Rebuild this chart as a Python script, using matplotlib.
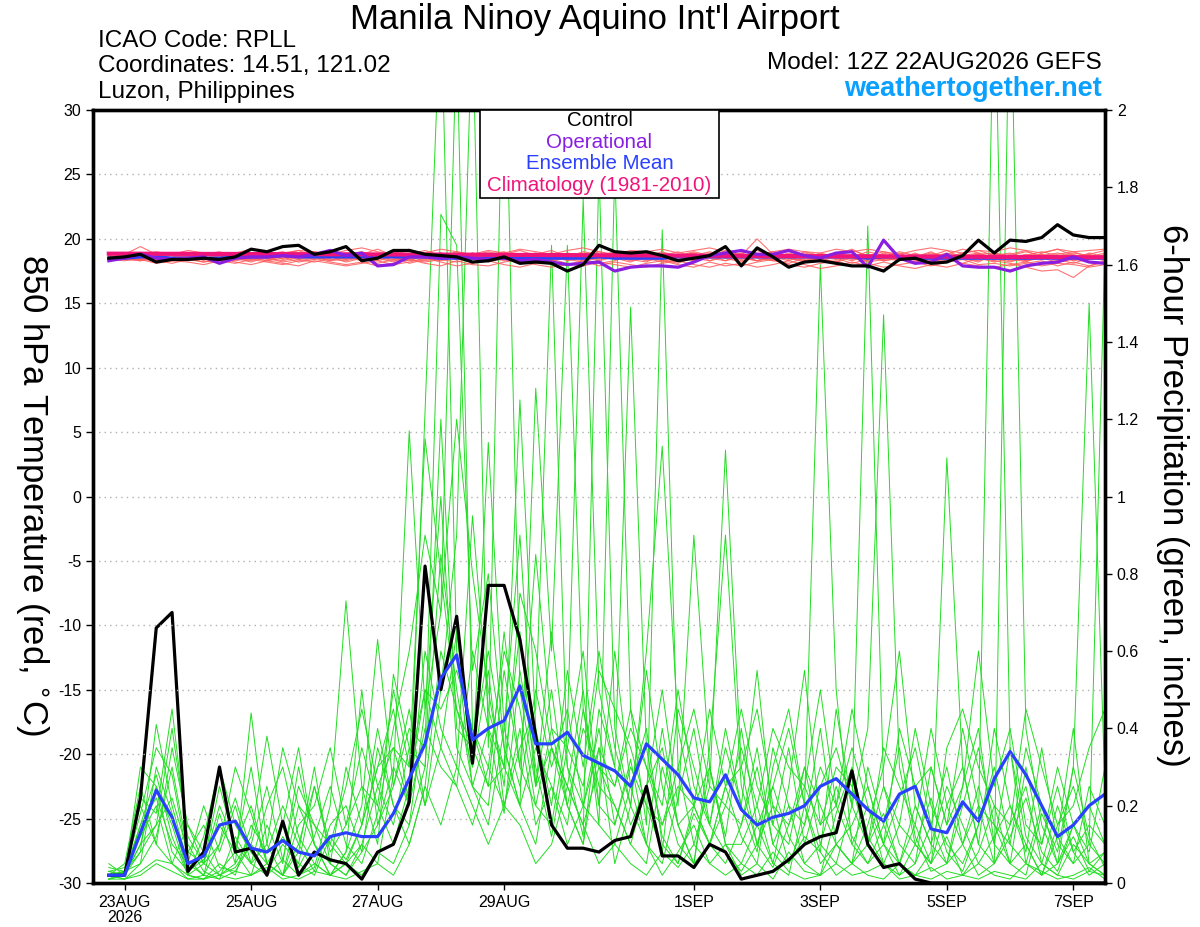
import numpy as np
import pandas as pd
import matplotlib
matplotlib.use("Agg")
import matplotlib.pyplot as plt
from matplotlib.patches import Rectangle
from matplotlib.ticker import FormatStrFormatter

plt.rcParams['font.family'] = ['Liberation Sans', 'DejaVu Sans']
plt.rcParams['axes.unicode_minus'] = False

# 6-hourly valid times of the GEFS run (12Z 22AUG2026)
times = pd.date_range('2026-08-22 18:00', periods=64, freq='6h')
x_start = pd.Timestamp('2026-08-22 12:00')
x_end = pd.Timestamp('2026-09-07 12:00')

tick_dates = pd.to_datetime(['2026-08-23', '2026-08-25', '2026-08-27', '2026-08-29',
                             '2026-09-01', '2026-09-03', '2026-09-05', '2026-09-07'])
tick_labels = ['23AUG\n2026', '25AUG', '27AUG', '29AUG', '1SEP', '3SEP', '5SEP', '7SEP']
temp_ticks = [-30, -25, -20, -15, -10, -5, 0, 5, 10, 15, 20, 25, 30]
precip_ticks = [0, 0.2, 0.4, 0.6, 0.8, 1.0, 1.2, 1.4, 1.6, 1.8, 2.0]

# ---- 850 hPa temperature (deg C) ----
control_temp = [18.5, 18.6, 18.8, 18.2, 18.4, 18.4, 18.5, 18.4, 18.6, 19.2, 19.0, 19.4, 19.5, 18.8, 19.0, 19.4,
                18.3, 18.5, 19.1, 19.1, 18.8, 18.7, 18.6, 18.2, 18.3, 18.6, 18.1, 18.2, 18.1, 17.5, 18.0, 19.5,
                19.0, 18.9, 19.0, 18.7, 18.3, 18.5, 18.7, 19.4, 17.9, 19.3, 18.6, 17.8, 18.2, 18.3, 18.1, 17.9,
                17.9, 17.5, 18.4, 18.5, 18.1, 18.2, 18.7, 19.9, 18.9, 19.9, 19.8, 20.1, 21.1, 20.3, 20.1, 20.1]
oper_temp = [18.3, 18.5, 18.8, 18.5, 18.4, 18.5, 18.6, 18.1, 18.5, 18.6, 18.6, 18.7, 18.6, 18.8, 19.1, 18.7,
             18.9, 17.9, 18.0, 18.6, 18.6, 18.5, 18.6, 18.5, 18.4, 18.5, 18.3, 18.4, 18.2, 18.0, 18.1, 18.2,
             17.5, 17.8, 17.9, 17.9, 17.8, 18.2, 18.7, 18.9, 19.1, 18.8, 18.8, 19.1, 18.7, 18.5, 18.9, 19.0,
             17.8, 19.9, 18.5, 18.1, 18.2, 18.8, 17.9, 17.8, 17.8, 17.5, 17.9, 18.1, 18.2, 18.6, 18.2, 18.1]
mean_temp = [18.5, 18.5, 18.6, 18.6, 18.5, 18.5, 18.5, 18.5, 18.6, 18.6, 18.6, 18.7, 18.6, 18.6, 18.6, 18.6,
             18.6, 18.6, 18.6, 18.6, 18.6, 18.5, 18.5, 18.5, 18.5, 18.5, 18.5, 18.5, 18.5, 18.5, 18.5, 18.6,
             18.5, 18.5, 18.5, 18.5, 18.6, 18.6, 18.6, 18.6, 18.6, 18.6, 18.6, 18.6, 18.6, 18.6, 18.6, 18.6,
             18.5, 18.6, 18.6, 18.5, 18.5, 18.5, 18.5, 18.5, 18.5, 18.5, 18.5, 18.5, 18.5, 18.5, 18.5, 18.5]
clim_temp = [18.85, 18.85, 18.85, 18.84, 18.84, 18.84, 18.83, 18.83, 18.83, 18.82, 18.82, 18.82, 18.81, 18.81, 18.80, 18.80,
             18.80, 18.79, 18.79, 18.78, 18.78, 18.78, 18.77, 18.77, 18.76, 18.76, 18.75, 18.75, 18.74, 18.74, 18.73, 18.73,
             18.72, 18.72, 18.71, 18.71, 18.70, 18.70, 18.69, 18.69, 18.68, 18.68, 18.67, 18.67, 18.66, 18.66, 18.65, 18.65,
             18.64, 18.64, 18.63, 18.63, 18.62, 18.62, 18.61, 18.61, 18.60, 18.60, 18.59, 18.59, 18.58, 18.58, 18.57, 18.57]

member_temps = [
    [18.6, 18.5, 18.7, 18.4, 18.5, 18.8, 18.6, 18.4, 18.7, 18.9, 18.5, 18.3, 18.6, 18.8, 18.5, 18.9,
     18.4, 18.7, 19.0, 18.6, 18.3, 18.5, 18.8, 18.6, 18.9, 18.4, 18.2, 18.6, 18.9, 18.5, 18.3, 18.7,
     19.0, 18.6, 18.3, 18.5, 18.8, 18.4, 18.6, 19.1, 18.7, 18.3, 18.5, 18.9, 18.6, 18.2, 18.8, 19.2,
     18.6, 18.4, 18.9, 18.3, 18.7, 19.1, 18.5, 18.2, 18.8, 18.6, 18.3, 18.9, 19.2, 18.7, 18.4, 18.8],
    [18.5, 18.6, 18.9, 18.6, 18.3, 18.4, 18.7, 18.9, 18.5, 18.2, 18.6, 18.9, 19.1, 18.6, 18.3, 18.5,
     18.8, 19.2, 18.7, 18.4, 18.6, 18.9, 18.5, 18.2, 18.4, 18.8, 19.1, 18.7, 18.3, 18.6, 19.0, 18.8,
     18.5, 18.2, 18.7, 19.0, 18.6, 18.3, 18.9, 18.5, 18.2, 18.6, 19.0, 18.7, 18.4, 18.8, 18.5, 18.1,
     18.4, 18.9, 18.6, 18.2, 18.5, 18.8, 19.2, 18.9, 18.5, 18.2, 18.6, 18.4, 18.8, 19.0, 18.6, 18.9],
    [18.7, 18.4, 18.3, 18.7, 18.9, 18.5, 18.2, 18.4, 18.6, 18.8, 18.4, 18.6, 18.2, 18.4, 18.8, 18.6,
     18.3, 18.5, 18.2, 18.8, 19.1, 18.7, 18.4, 18.9, 18.6, 18.3, 18.6, 18.9, 18.5, 18.8, 18.4, 18.1,
     18.3, 18.7, 18.9, 18.4, 18.1, 18.6, 18.8, 18.3, 18.9, 19.1, 18.6, 18.3, 18.8, 18.5, 18.2, 18.6,
     19.0, 18.7, 18.4, 18.6, 19.0, 18.4, 18.1, 18.5, 18.3, 18.8, 19.1, 18.5, 18.2, 18.4, 18.9, 18.6],
    [18.4, 18.7, 18.5, 18.2, 18.6, 18.9, 18.3, 18.1, 18.4, 18.6, 18.9, 18.4, 18.7, 19.0, 18.6, 18.2,
     18.5, 18.3, 18.6, 18.1, 18.4, 18.6, 19.0, 18.7, 18.2, 18.5, 18.8, 18.4, 18.7, 18.3, 18.6, 19.0,
     18.7, 18.4, 18.2, 18.8, 18.5, 18.9, 18.3, 18.6, 18.4, 18.7, 18.3, 18.1, 18.5, 18.9, 18.6, 18.3,
     18.7, 18.3, 18.5, 18.9, 18.4, 18.2, 18.6, 18.4, 18.9, 18.5, 18.2, 18.7, 18.3, 18.6, 18.8, 18.4],
    [18.6, 18.8, 19.4, 18.8, 18.5, 18.3, 18.5, 18.7, 18.9, 18.5, 18.3, 18.7, 18.4, 18.2, 18.5, 18.8,
     19.0, 18.6, 18.4, 18.5, 18.8, 18.4, 18.2, 18.5, 18.8, 19.0, 18.5, 18.2, 18.4, 18.9, 18.7, 18.4,
     18.6, 18.9, 18.5, 18.2, 18.4, 18.7, 19.0, 18.6, 18.5, 18.3, 18.8, 19.1, 18.7, 18.4, 18.2, 18.8,
     18.5, 18.8, 18.3, 18.6, 18.9, 18.6, 18.8, 18.5, 18.2, 18.5, 18.8, 18.6, 18.4, 18.1, 18.5, 18.7],
    [18.5, 18.4, 18.6, 18.9, 18.7, 18.4, 18.8, 19.0, 18.6, 18.4, 18.7, 18.5, 18.9, 18.7, 19.0, 18.5,
     18.7, 18.4, 18.9, 19.2, 18.7, 18.5, 18.8, 18.4, 18.5, 18.7, 18.4, 18.8, 19.1, 18.6, 18.8, 18.5,
     18.9, 18.5, 18.8, 18.6, 18.3, 18.7, 18.5, 18.9, 18.6, 18.9, 18.7, 18.4, 19.0, 18.7, 18.9, 18.6,
     18.3, 18.6, 19.0, 18.7, 18.3, 18.6, 18.9, 19.1, 18.7, 18.9, 18.5, 18.8, 18.6, 18.9, 18.7, 18.5],
    [18.4, 18.3, 18.5, 18.3, 18.1, 18.4, 18.2, 18.5, 18.2, 18.0, 18.3, 18.1, 17.9, 18.3, 18.1, 17.9,
     18.1, 18.3, 18.0, 18.2, 18.5, 18.2, 17.9, 18.1, 18.3, 18.0, 17.8, 18.1, 18.4, 18.1, 17.9, 18.2,
     18.0, 17.8, 18.1, 18.3, 18.0, 17.8, 18.2, 17.9, 18.1, 17.8, 18.0, 18.3, 18.0, 17.7, 17.9, 18.2,
     17.9, 18.2, 17.9, 17.7, 18.0, 17.8, 18.1, 17.9, 17.8, 18.0, 18.2, 17.9, 18.1, 18.0, 17.8, 18.0],
    [18.7, 18.9, 18.8, 19.0, 18.8, 19.1, 18.9, 18.7, 18.9, 19.2, 19.0, 18.8, 19.1, 19.0, 18.8, 19.1,
     19.3, 19.0, 18.8, 19.1, 18.9, 19.2, 19.0, 18.8, 19.1, 18.9, 19.2, 19.0, 18.8, 19.1, 19.3, 19.0,
     18.8, 19.1, 19.0, 19.2, 18.9, 19.1, 19.3, 19.0, 19.1, 18.8, 19.0, 19.2, 19.0, 18.9, 19.2, 19.0,
     19.2, 19.0, 18.8, 19.1, 19.3, 19.1, 18.9, 19.1, 19.0, 19.3, 19.1, 18.9, 19.2, 19.0, 19.1, 19.2],
    [18.5, 18.6, 18.4, 18.6, 18.8, 18.6, 18.4, 18.7, 18.3, 18.5, 18.8, 19.0, 18.6, 18.4, 18.7, 18.4,
     18.6, 18.8, 18.5, 18.3, 18.7, 18.9, 18.6, 18.4, 18.7, 18.5, 18.3, 18.6, 18.9, 18.7, 18.4, 18.8,
     18.4, 18.6, 18.9, 18.7, 19.0, 18.5, 18.3, 18.7, 18.9, 18.5, 18.3, 18.7, 18.9, 18.6, 18.4, 18.7,
     18.8, 18.5, 18.7, 18.4, 18.6, 18.9, 18.5, 18.3, 18.7, 18.4, 18.7, 19.0, 18.7, 18.4, 18.6, 18.3],
    [18.6, 18.7, 18.5, 18.5, 18.3, 18.6, 18.9, 18.6, 18.8, 18.6, 18.3, 18.5, 18.8, 18.6, 18.3, 18.7,
     18.5, 18.1, 18.4, 18.7, 18.5, 18.3, 18.6, 18.9, 18.6, 18.8, 18.5, 18.3, 18.6, 18.4, 18.2, 18.6,
     18.8, 18.4, 18.6, 18.3, 18.7, 18.9, 18.5, 18.3, 18.6, 18.3, 18.6, 18.5, 18.2, 18.5, 18.7, 18.5,
     18.2, 18.4, 18.6, 18.8, 18.5, 18.3, 18.6, 18.8, 18.4, 18.7, 18.3, 18.5, 18.7, 18.3, 18.5, 18.7],
    [18.5, 18.5, 18.3, 18.5, 18.7, 18.5, 18.6, 18.3, 18.5, 18.7, 18.6, 18.9, 18.5, 18.6, 18.4, 18.3,
     18.6, 18.5, 18.7, 18.4, 18.2, 18.4, 18.7, 18.5, 18.3, 18.6, 18.7, 18.5, 18.3, 18.5, 18.6, 18.3,
     18.6, 18.3, 18.5, 18.6, 18.8, 18.3, 18.6, 18.8, 18.3, 18.6, 18.4, 18.6, 18.3, 18.7, 18.5, 18.6,
     18.6, 18.3, 18.5, 18.4, 18.2, 18.5, 18.6, 18.7, 18.6, 18.3, 18.4, 18.6, 18.5, 18.8, 18.4, 18.6],
    [18.6, 18.4, 18.4, 18.1, 18.3, 18.2, 18.0, 18.3, 18.1, 18.4, 18.2, 18.0, 18.3, 18.5, 18.2, 18.0,
     18.2, 17.9, 18.1, 18.4, 18.1, 17.9, 18.3, 18.0, 17.9, 18.2, 18.4, 18.0, 17.8, 18.0, 18.3, 17.9,
     18.2, 18.0, 17.8, 18.1, 18.3, 18.0, 17.8, 18.1, 17.9, 18.2, 18.4, 18.0, 17.8, 18.1, 18.3, 17.9,
     18.1, 17.8, 18.0, 18.2, 17.9, 18.2, 18.4, 18.0, 18.1, 17.9, 18.1, 18.3, 17.9, 18.2, 17.9, 18.2],
    [18.5, 18.7, 18.6, 18.3, 18.5, 18.7, 18.4, 18.6, 18.9, 18.7, 18.5, 18.2, 18.4, 18.7, 18.9, 18.6,
     18.4, 18.6, 18.3, 18.5, 18.8, 18.6, 18.4, 18.7, 19.0, 18.7, 18.5, 18.8, 18.6, 18.4, 18.7, 18.5,
     18.8, 19.0, 18.6, 18.4, 18.7, 19.0, 18.7, 18.5, 18.7, 20.0, 18.8, 18.5, 18.3, 18.6, 18.8, 18.4,
     18.6, 18.5, 18.3, 18.6, 18.8, 18.5, 18.7, 18.9, 18.3, 18.1, 17.8, 17.5, 17.6, 17.0, 17.9, 18.3],
    [18.6, 18.6, 18.8, 18.6, 18.9, 18.7, 18.5, 18.8, 18.6, 18.3, 18.7, 18.9, 18.6, 18.8, 18.6, 18.4,
     18.8, 18.6, 18.9, 18.7, 18.5, 18.7, 18.4, 18.6, 18.5, 18.9, 18.7, 18.4, 18.7, 18.5, 18.9, 18.6,
     18.9, 18.7, 18.4, 18.9, 18.6, 18.4, 18.7, 18.9, 18.5, 18.7, 18.9, 18.6, 18.8, 18.5, 18.7, 19.1,
     18.7, 19.0, 18.7, 18.5, 18.7, 18.4, 18.6, 18.8, 18.9, 18.7, 19.0, 18.7, 18.9, 18.6, 18.8, 19.1],
]

# ---- 6-hour precipitation (inches) ----
control_precip = [0.02, 0.02, 0.22, 0.66, 0.70, 0.03, 0.08, 0.30, 0.08, 0.09, 0.02, 0.16, 0.02, 0.08, 0.06, 0.05,
                  0.01, 0.08, 0.10, 0.21, 0.82, 0.50, 0.69, 0.31, 0.77, 0.77, 0.63, 0.38, 0.15, 0.09, 0.09, 0.08,
                  0.11, 0.12, 0.25, 0.07, 0.07, 0.04, 0.10, 0.08, 0.01, 0.02, 0.03, 0.06, 0.10, 0.12, 0.13, 0.29,
                  0.10, 0.04, 0.05, 0.01, 0.00, 0.00, 0.00, 0.00, 0.00, 0.00, 0.00, 0.00, 0.00, 0.00, 0.00, 0.00]
mean_precip = [0.02, 0.02, 0.13, 0.24, 0.17, 0.05, 0.07, 0.15, 0.16, 0.09, 0.08, 0.11, 0.08, 0.07, 0.12, 0.13,
               0.12, 0.12, 0.18, 0.27, 0.36, 0.53, 0.59, 0.37, 0.40, 0.42, 0.51, 0.36, 0.36, 0.39, 0.33, 0.31,
               0.29, 0.25, 0.36, 0.32, 0.28, 0.22, 0.21, 0.28, 0.19, 0.15, 0.17, 0.18, 0.20, 0.25, 0.27, 0.23,
               0.19, 0.16, 0.23, 0.25, 0.14, 0.13, 0.21, 0.16, 0.27, 0.34, 0.28, 0.20, 0.12, 0.15, 0.20, 0.23]

member_precips = [
    [0.02, 0.03, 0.15, 0.28, 0.12, 0.02, 0.05, 0.10, 0.22, 0.08, 0.03, 0.10, 0.05, 0.02, 0.12, 0.06,
     0.15, 0.30, 0.45, 0.20, 1.22, 2.30, 0.60, 0.25, 0.40, 0.18, 0.55, 0.30, 0.12, 0.35, 0.60, 0.20,
     0.15, 0.32, 0.10, 0.05, 0.22, 0.40, 0.15, 0.08, 0.03, 0.10, 0.25, 0.12, 0.05, 0.02, 0.18, 0.30,
     0.12, 0.05, 0.02, 0.10, 0.22, 0.08, 0.03, 0.15, 2.40, 0.35, 0.12, 0.05, 0.20, 0.08, 0.02, 0.05],
    [0.01, 0.02, 0.08, 0.41, 0.20, 0.05, 0.02, 0.18, 0.05, 0.44, 0.10, 0.02, 0.08, 0.30, 0.05, 0.02,
     0.10, 0.05, 0.28, 1.17, 0.45, 0.70, 2.20, 0.40, 0.25, 0.65, 0.30, 0.85, 0.40, 0.20, 0.10, 0.45,
     0.30, 1.49, 0.35, 0.12, 0.05, 0.18, 0.10, 0.25, 0.12, 0.05, 0.30, 0.45, 0.20, 0.08, 0.02, 0.05,
     0.10, 0.18, 0.05, 0.02, 0.08, 1.10, 0.30, 0.10, 0.05, 0.12, 0.22, 0.08, 0.03, 0.15, 0.05, 0.02],
    [0.03, 0.02, 0.22, 0.18, 0.45, 0.10, 0.03, 0.01, 0.12, 0.05, 0.02, 0.15, 0.35, 0.10, 0.02, 0.08,
     0.20, 0.63, 0.25, 0.40, 0.35, 1.73, 1.65, 0.55, 0.80, 0.35, 0.20, 1.28, 0.60, 1.65, 0.45, 0.20,
     0.60, 0.25, 0.10, 0.40, 0.15, 0.05, 0.30, 0.12, 0.40, 0.15, 0.05, 0.02, 0.20, 1.60, 0.50, 0.10,
     0.05, 0.15, 0.35, 0.12, 0.03, 0.05, 0.25, 0.40, 0.10, 0.05, 0.02, 0.18, 0.08, 0.30, 0.12, 0.04],
    [0.02, 0.01, 0.05, 0.12, 0.30, 0.08, 0.15, 0.04, 0.03, 0.10, 0.25, 0.06, 0.02, 0.04, 0.20, 0.73,
     0.25, 0.10, 0.54, 0.35, 0.20, 0.50, 0.90, 2.25, 0.35, 2.30, 0.50, 0.25, 0.65, 0.30, 0.12, 1.85,
     0.40, 0.20, 0.55, 0.25, 0.10, 0.05, 0.35, 0.90, 0.25, 0.10, 0.04, 0.15, 0.30, 0.10, 0.05, 0.20,
     0.40, 1.47, 0.30, 0.10, 0.05, 0.12, 0.02, 0.08, 0.20, 0.05, 0.10, 0.02, 0.05, 0.30, 1.50, 0.25],
    [0.04, 0.03, 0.18, 0.35, 0.28, 0.06, 0.02, 0.10, 0.30, 0.18, 0.05, 0.02, 0.10, 0.25, 0.08, 0.15,
     0.35, 0.20, 0.10, 0.25, 0.50, 0.35, 0.65, 0.30, 1.14, 0.40, 0.25, 0.50, 0.30, 0.45, 0.20, 0.35,
     0.25, 0.45, 0.15, 1.69, 0.30, 0.10, 0.25, 1.12, 0.30, 0.10, 0.20, 0.05, 0.12, 0.08, 0.45, 0.20,
     1.70, 0.25, 0.10, 0.05, 0.15, 0.30, 0.10, 0.02, 0.05, 2.40, 0.40, 0.15, 0.05, 0.12, 0.03, 0.08],
    [0.01, 0.02, 0.10, 0.25, 0.15, 0.02, 0.01, 0.03, 0.08, 0.02, 0.15, 0.05, 0.30, 0.10, 0.02, 0.05,
     0.10, 0.25, 0.15, 0.35, 0.30, 1.20, 0.40, 0.35, 0.25, 0.30, 0.20, 0.10, 0.35, 0.25, 0.15, 0.30,
     0.20, 0.10, 0.25, 0.35, 0.15, 0.05, 0.10, 0.20, 0.15, 0.35, 0.10, 0.20, 0.05, 0.10, 0.25, 0.12,
     0.05, 0.10, 0.22, 0.35, 0.15, 0.05, 0.10, 0.25, 0.10, 0.35, 0.05, 0.02, 0.12, 0.40, 0.05, 0.02],
    [0.02, 0.01, 0.03, 0.06, 0.05, 0.01, 0.02, 0.01, 0.03, 0.02, 0.05, 0.02, 0.01, 0.03, 0.02, 0.05,
     0.02, 0.08, 0.05, 0.15, 0.30, 0.85, 0.50, 0.25, 0.15, 0.40, 0.90, 0.25, 0.50, 0.20, 0.10, 0.35,
     0.05, 0.20, 0.10, 0.02, 0.08, 0.15, 0.05, 0.10, 0.02, 0.05, 0.01, 0.08, 0.03, 0.02, 0.10, 0.05,
     0.02, 0.01, 0.05, 0.02, 0.01, 0.03, 0.02, 0.01, 0.03, 0.02, 0.01, 0.05, 0.02, 0.01, 0.03, 0.02],
    [0.02, 0.03, 0.12, 0.20, 0.05, 0.15, 0.08, 0.02, 0.05, 0.12, 0.38, 0.15, 0.04, 0.12, 0.25, 0.10,
     0.05, 0.18, 0.40, 0.60, 0.90, 0.70, 1.20, 0.80, 0.50, 0.25, 0.75, 0.60, 0.35, 0.25, 0.50, 0.15,
     1.85, 0.45, 0.30, 0.20, 0.50, 0.25, 0.15, 0.40, 0.20, 0.55, 0.15, 0.10, 0.30, 0.20, 0.10, 0.05,
     0.15, 0.30, 0.60, 0.20, 0.10, 0.05, 0.20, 0.35, 0.15, 0.05, 0.30, 0.10, 0.25, 0.08, 0.15, 0.10],
    [0.05, 0.02, 0.10, 0.15, 0.22, 0.08, 0.05, 0.20, 0.10, 0.05, 0.20, 0.30, 0.12, 0.05, 0.02, 0.08,
     0.50, 0.15, 0.30, 0.20, 0.60, 0.40, 0.30, 0.95, 0.45, 0.30, 1.25, 0.40, 0.20, 0.55, 0.30, 0.60,
     0.35, 0.20, 0.60, 1.13, 0.40, 0.20, 0.10, 0.25, 0.45, 0.25, 0.15, 0.35, 0.10, 0.25, 0.35, 0.20,
     0.10, 0.25, 0.15, 0.40, 0.20, 0.10, 0.05, 0.15, 0.30, 0.10, 0.05, 0.20, 0.12, 0.05, 0.10, 1.65],
    [0.03, 0.04, 0.20, 0.10, 0.05, 0.02, 0.12, 0.30, 0.15, 0.08, 0.02, 0.06, 0.25, 0.15, 0.05, 0.02,
     0.08, 0.15, 0.25, 0.45, 0.20, 0.35, 0.25, 0.15, 0.30, 0.20, 0.40, 0.15, 0.25, 0.10, 0.20, 0.15,
     0.10, 0.25, 0.40, 0.10, 0.05, 0.20, 0.30, 0.10, 0.05, 0.15, 0.25, 0.40, 0.20, 0.05, 0.10, 0.15,
     0.25, 0.10, 0.02, 0.05, 0.30, 0.15, 0.40, 0.20, 0.05, 0.15, 0.25, 0.05, 0.02, 0.10, 0.05, 0.08],
    [0.02, 0.02, 0.30, 0.25, 0.08, 0.03, 0.06, 0.15, 0.08, 0.30, 0.05, 0.02, 0.15, 0.20, 0.35, 0.15,
     0.25, 0.20, 0.50, 0.30, 1.15, 0.80, 0.45, 0.30, 0.55, 0.20, 0.35, 0.45, 1.65, 0.30, 0.20, 0.40,
     0.15, 0.30, 0.20, 0.08, 0.45, 0.30, 0.15, 0.35, 0.20, 0.08, 0.35, 0.20, 0.15, 0.40, 0.10, 0.05,
     0.30, 0.15, 0.05, 0.20, 0.10, 0.25, 0.15, 0.05, 0.12, 0.20, 0.08, 0.35, 0.10, 0.05, 0.25, 0.15],
    [0.01, 0.03, 0.05, 0.30, 0.18, 0.02, 0.01, 0.05, 0.02, 0.15, 0.08, 0.20, 0.10, 0.03, 0.15, 0.20,
     0.08, 0.35, 0.20, 0.15, 0.45, 1.00, 0.35, 0.25, 0.20, 0.55, 0.30, 0.20, 0.15, 0.40, 1.77, 0.50,
     0.30, 0.15, 0.25, 0.50, 0.20, 0.90, 0.30, 0.10, 0.10, 0.20, 0.05, 0.25, 0.55, 0.15, 0.20, 0.10,
     0.20, 0.05, 0.15, 0.10, 0.05, 0.20, 0.30, 0.10, 0.40, 0.20, 0.10, 0.02, 0.15, 0.25, 0.10, 0.05],
    [0.02, 0.05, 0.25, 0.10, 0.35, 0.15, 0.05, 0.02, 0.04, 0.10, 0.05, 0.02, 0.20, 0.10, 0.05, 0.30,
     0.15, 0.40, 0.20, 0.10, 0.25, 0.60, 0.45, 0.35, 0.60, 0.35, 0.20, 0.35, 0.25, 0.15, 0.45, 0.25,
     0.20, 0.10, 0.05, 0.30, 0.15, 0.20, 0.10, 0.05, 0.15, 0.30, 0.10, 0.05, 0.15, 0.30, 0.20, 0.45,
     0.25, 0.10, 0.05, 0.15, 0.40, 0.20, 0.10, 0.20, 0.15, 0.10, 0.35, 0.20, 0.05, 0.15, 0.08, 0.30],
    [0.01, 0.01, 0.02, 0.05, 0.03, 0.01, 0.01, 0.02, 0.01, 0.02, 0.04, 0.01, 0.02, 0.05, 0.02, 0.01,
     0.03, 0.05, 0.02, 0.10, 0.25, 0.15, 0.30, 0.20, 0.10, 0.20, 0.15, 0.05, 0.10, 0.25, 0.15, 0.05,
     0.10, 0.05, 0.02, 0.08, 0.04, 0.10, 0.05, 0.02, 0.05, 0.02, 0.08, 0.03, 0.01, 0.02, 0.05, 0.02,
     0.03, 0.05, 0.01, 0.02, 0.04, 0.01, 0.02, 0.05, 0.02, 0.01, 0.05, 0.03, 0.01, 0.02, 0.04, 0.01],
    [0.03, 0.02, 0.15, 0.22, 0.10, 0.05, 0.20, 0.08, 0.20, 0.05, 0.10, 0.35, 0.20, 0.15, 0.10, 0.25,
     0.45, 0.25, 0.35, 0.30, 0.50, 0.45, 0.55, 0.40, 0.30, 0.60, 0.45, 0.20, 0.40, 0.35, 0.25, 0.55,
     0.45, 0.35, 0.20, 0.15, 0.30, 0.45, 0.25, 0.20, 0.35, 0.20, 0.40, 0.30, 0.25, 0.15, 0.30, 0.25,
     0.10, 0.35, 0.25, 0.15, 0.05, 0.35, 0.45, 0.30, 0.20, 0.15, 0.45, 0.30, 0.15, 0.20, 0.35, 0.45],
    [0.02, 0.03, 0.08, 0.15, 0.40, 0.12, 0.05, 0.25, 0.10, 0.20, 0.05, 0.12, 0.05, 0.25, 0.10, 0.05,
     0.15, 0.30, 0.35, 0.20, 0.40, 0.30, 0.25, 0.60, 0.40, 0.30, 0.65, 0.25, 0.35, 0.20, 0.40, 0.30,
     0.25, 0.40, 0.30, 0.15, 0.25, 0.20, 0.45, 0.25, 0.30, 0.45, 0.20, 0.15, 0.25, 0.50, 0.20, 0.35,
     0.20, 0.10, 0.40, 0.25, 0.30, 0.15, 0.25, 0.60, 0.25, 0.40, 0.15, 0.10, 0.30, 0.15, 0.20, 0.10],
]

legend_labels = ['Control', 'Operational', 'Ensemble Mean', 'Climatology (1981-2010)']
legend_colors = ['black', '#8a1ee0', '#2a40ff', '#f0147a']

fig = plt.figure(figsize=(12, 9.27), dpi=100)
ax = fig.add_axes([0.0775, 0.0475, 0.8433, 0.8338])   # temperature, left axis
axp = ax.twinx()                                      # precipitation, right axis
ax.set_zorder(axp.get_zorder() + 1)
ax.patch.set_visible(False)

# precipitation (green members, black control, blue mean)
for m in member_precips:
    axp.plot(times, m, color='#22dd22', lw=0.7)
axp.plot(times, control_precip, color='black', lw=2.3)
axp.plot(times, mean_precip, color='#2a40ff', lw=2.3)

# temperature
for m in member_temps:
    ax.plot(times, m, color='#ff5a5a', lw=0.8, alpha=0.85)
ax.plot(times, mean_temp, color=legend_colors[2], lw=2.3)
ax.plot(times, clim_temp, color=legend_colors[3], lw=3.0)
ax.plot(times, oper_temp, color=legend_colors[1], lw=2.3)
ax.plot(times, control_temp, color='black', lw=2.3)

ax.set_xlim(x_start, x_end)
ax.set_ylim(-30, 30)
axp.set_ylim(0, 2)
ax.set_yticks(temp_ticks)
axp.set_yticks(precip_ticks)
axp.yaxis.set_major_formatter(FormatStrFormatter('%g'))
ax.set_xticks(tick_dates)
ax.set_xticklabels(tick_labels, linespacing=1.0)
ax.grid(axis='y', color='#b0b0b0', linestyle=(0, (1, 3)), lw=1.0)

for a in (ax, axp):
    a.tick_params(labelsize=11.5, length=5, width=1, direction='out')
    for s in a.spines.values():
        s.set_linewidth(2.4)

# legend box
ax.add_patch(Rectangle((0.382, 0.886), 0.237, 0.114, transform=ax.transAxes,
                       facecolor='white', edgecolor='black', lw=1.2, zorder=10))
for k, (lab, col) in enumerate(zip(legend_labels, legend_colors)):
    ax.text(0.5005, 0.986 - k * 0.0277, lab, color=col, fontsize=14.8, ha='center', va='center',
            transform=ax.transAxes, zorder=11)

# headers
fig.text(0.496, 0.9795, "Manila Ninoy Aquino Int'l Airport", fontsize=25, ha='center', va='center')
fig.text(0.0817, 0.9558, 'ICAO Code: RPLL', fontsize=17.5, ha='left', va='center')
fig.text(0.0817, 0.9288, 'Coordinates: 14.51, 121.02', fontsize=17.5, ha='left', va='center')
fig.text(0.0817, 0.9008, 'Luzon, Philippines', fontsize=17.5, ha='left', va='center')
fig.text(0.9185, 0.932, 'Model: 12Z 22AUG2026 GEFS', fontsize=17.5, ha='right', va='center')
fig.text(0.9185, 0.9035, 'weathertogether.net', fontsize=19.5, fontweight='bold', color='#0aa0ff',
         ha='right', va='center')
fig.text(0.0267, 0.466, '850 hPa Temperature (red, $^{\\circ}$C)', fontsize=25, rotation=270,
         ha='center', va='center')
fig.text(0.9767, 0.466, '6-hour Precipitation (green, inches)', fontsize=25, rotation=270,
         ha='center', va='center')

fig.savefig('out.png', dpi=100, facecolor='white')
